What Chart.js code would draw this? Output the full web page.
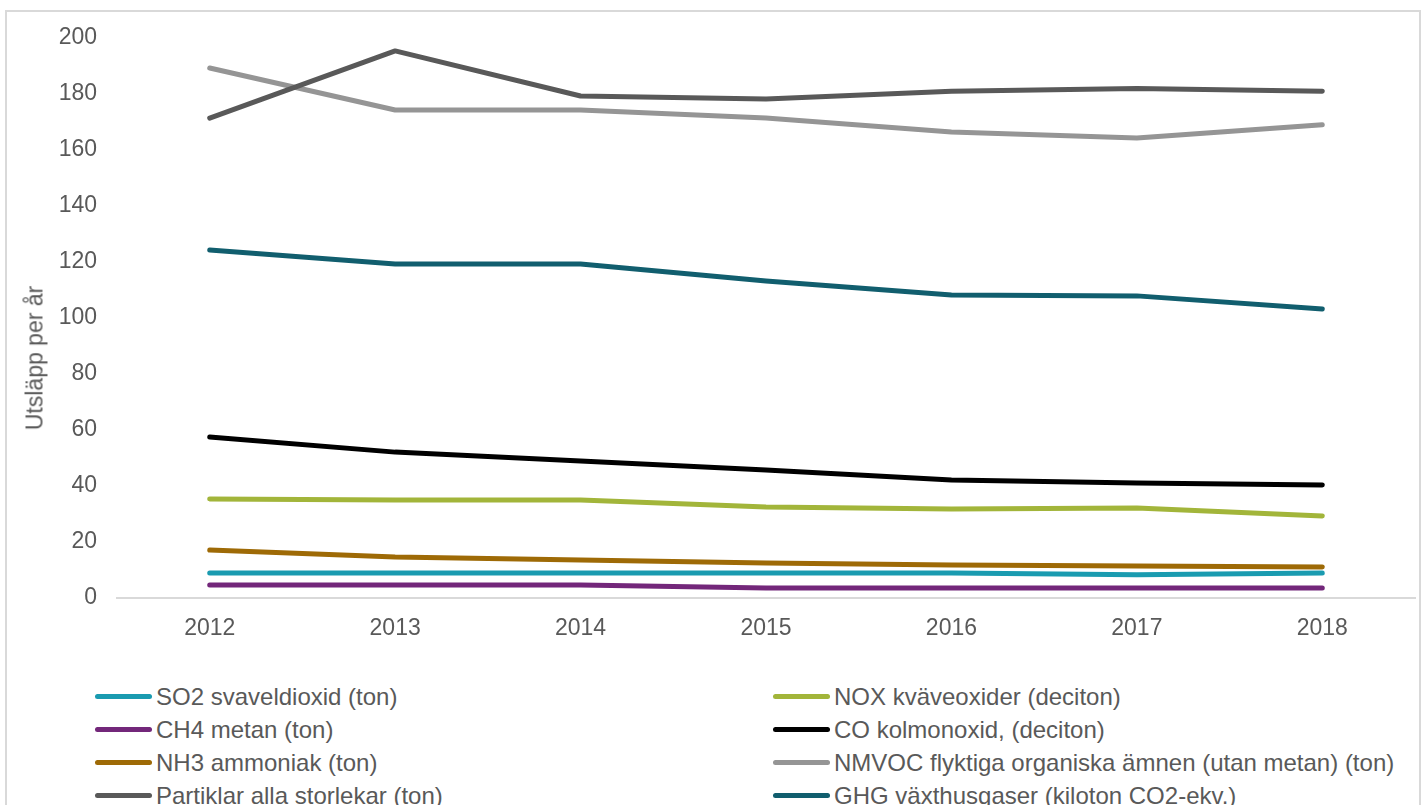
<!DOCTYPE html>
<html>
<head>
<meta charset="utf-8">
<script src="https://cdn.jsdelivr.net/npm/chart.js@4"></script>
<style>
    html, body { margin: 0; padding: 0; overflow: hidden; background: #fff; }
    #frame {
        position: absolute; left: 5px; top: 10px; width: 1416px; height: 820px;
        border: 2px solid #d9d9d9; box-sizing: border-box;
    }
    #chartBox { position: absolute; left: 0; top: 0; width: 1424px; height: 660px; }
    #yTitle {
        position: absolute; left: 35px; top: 358px;
        transform: translate(-50%, -50%) rotate(-90deg);
        font: 23px "Liberation Sans", Arial, sans-serif; color: #595959; white-space: nowrap;
    }
    #legend {
        position: absolute; left: 95px; top: 680px;
        display: grid; grid-template-columns: 678px 650px; row-gap: 0;
        font: 24px "Liberation Sans", Arial, sans-serif; color: #595959;
    }
    .item { display: flex; align-items: center; height: 33px; white-space: nowrap; }
    .swatch { width: 57px; height: 5px; border-radius: 3px; margin-right: 4px; flex: none; }
</style>
</head>
<body>
<div id="frame"></div>
<div id="chartBox"><canvas id="emissionChart"></canvas></div>
<div id="yTitle">Utsläpp per år</div>
<div id="legend"></div>
<script>
document.addEventListener("DOMContentLoaded", function () {
    const years = ["2012", "2013", "2014", "2015", "2016", "2017", "2018"];

    const so2 = [8.9, 8.9, 8.9, 8.9, 8.9, 8.3, 8.9];
    const nox = [35.4, 35.0, 35.0, 32.5, 31.8, 32.1, 29.3];
    const ch4 = [4.6, 4.6, 4.6, 3.6, 3.6, 3.6, 3.6];
    const co = [57.5, 52.1, 48.9, 45.7, 42.1, 41.1, 40.4];
    const nh3 = [17.1, 14.6, 13.6, 12.5, 11.8, 11.4, 11.1];
    const nmvoc = [189.3, 174.3, 174.3, 171.4, 166.4, 164.3, 169.0];
    const partiklar = [171.4, 195.4, 179.3, 178.2, 181.0, 182.0, 181.0];
    const ghg = [124.3, 119.3, 119.3, 113.2, 108.2, 107.9, 103.2];

    const seriesNames = [
        "SO2 svaveldioxid (ton)",
        "NOX kväveoxider (deciton)",
        "CH4 metan (ton)",
        "CO kolmonoxid, (deciton)",
        "NH3 ammoniak (ton)",
        "NMVOC flyktiga organiska ämnen (utan metan) (ton)",
        "Partiklar alla storlekar (ton)",
        "GHG växthusgaser (kiloton CO2-ekv.)"
    ];
    const seriesValues = [so2, nox, ch4, co, nh3, nmvoc, partiklar, ghg];
    const seriesColors = ["#1a9bb0", "#a2b53a", "#73277a", "#000000",
                          "#9e6a06", "#959595", "#595959", "#115e6e"];

    const yTicks = [0, 20, 40, 60, 80, 100, 120, 140, 160, 180, 200];

    Chart.defaults.font.family = '"Liberation Sans", Arial, sans-serif';
    Chart.defaults.color = "#595959";

    let datasets = seriesNames.map((name, i) => ({
        label: name,
        data: seriesValues[i],
        borderColor: seriesColors[i],
        backgroundColor: seriesColors[i],
        borderWidth: 5,
        borderCapStyle: "round",
        borderJoinStyle: "round",
        pointRadius: 0,
        tension: 0,
        fill: false,
        order: seriesNames.length - i // senare serier ritas ovanpå
    }));

    let ctx = document.getElementById("emissionChart").getContext("2d");
    new Chart(ctx, {
        type: "line",
        data: { labels: years, datasets: datasets },
        options: {
            responsive: true,
            maintainAspectRatio: false,
            animation: false,
            layout: { padding: { top: 38, right: 9, left: 0, bottom: 0 } },
            plugins: {
                legend: { display: false },
                tooltip: { enabled: false }
            },
            scales: {
                x: {
                    offset: true,
                    grid: { display: false, drawTicks: false },
                    border: { display: true, color: "#d9d9d9", width: 2 },
                    ticks: { font: { size: 23 }, padding: 17 },
                    afterFit: function (scale) { scale.height = 62; }
                },
                y: {
                    min: 0,
                    max: 200,
                    afterBuildTicks: function (scale) {
                        scale.ticks = yTicks.map(v => ({ value: v }));
                    },
                    grid: { display: false, drawTicks: false },
                    border: { display: false },
                    ticks: { font: { size: 23 }, padding: 20 },
                    afterFit: function (scale) { scale.width = 117; }
                }
            }
        }
    });

    // Förklaring i två kolumner
    const legend = document.getElementById("legend");
    seriesNames.forEach((name, i) => {
        let item = document.createElement("div");
        item.className = "item";
        let swatch = document.createElement("span");
        swatch.className = "swatch";
        swatch.style.background = seriesColors[i];
        let text = document.createElement("span");
        text.textContent = name;
        item.appendChild(swatch);
        item.appendChild(text);
        legend.appendChild(item);
    });
});
</script>
</body>
</html>
